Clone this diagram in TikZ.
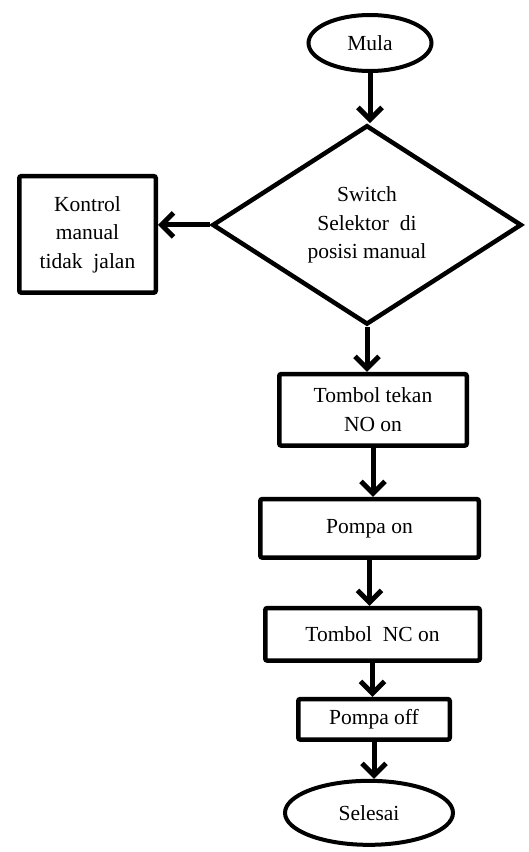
\documentclass[tikz,border=0pt]{standalone}
\usepackage{fontspec}
\setmainfont{Liberation Serif}
\usepackage{tikz}
\usetikzlibrary{shapes, arrows.meta, positioning}

\begin{document}
\begin{tikzpicture}[
			font=\fontsize{21.5}{28.5}\selectfont,
			box/.style={rectangle, draw, line width=4.5pt, rounded corners=2pt,
				align=center, inner sep=2pt},
			term/.style={ellipse, draw, line width=4pt, inner sep=1pt},
			cond/.style={diamond, draw, line width=4.5pt, align=center,
				minimum width=309.5pt, minimum height=193.5pt, inner sep=1pt},
			arrow/.style={-{Straight Barb[length=12pt, width=24pt]}, line width=5pt}
			]
			\useasboundingbox (0,0) rectangle (528pt,-852pt);
			
			\node[term, minimum width=123pt, minimum height=56pt] (mula) at (370pt,-43pt) {Mula};
			\node[cond, below=50pt of mula, xshift=-3pt] (sw)
			{Switch\\ Selektor~~di\\ posisi manual};
			\node[box, left=52pt of sw, yshift=-9.5pt,
				minimum width=136.5pt, minimum height=116.5pt] (ktr)
			{Kontrol\\ manual\\ tidak~~jalan};
			\node[box, below=45pt of sw, xshift=6pt,
				minimum width=187.5pt, minimum height=71.5pt] (tekan)
			{Tombol tekan\\ NO on};
			\node[box, below=49pt of tekan, xshift=-3.5pt,
				minimum width=218.5pt, minimum height=58.5pt] (pon)
			{Pompa on};
			\node[box, below=46pt of pon, xshift=3pt,
				minimum width=214.5pt, minimum height=52.5pt] (nc)
			{Tombol~~NC on};
			\node[box, below=34pt of nc, xshift=1.5pt,
				minimum width=151.5pt, minimum height=40.5pt] (poff)
			{Pompa off};
			\node[term, below=37pt of poff, xshift=-5pt,
				minimum width=168pt, minimum height=64pt] (sls)
			{Selesai};
			
			\draw[arrow] (mula.south) -- (mula.south |- sw.north);
			\draw[arrow] (sw.west) -- (sw.west -| ktr.east);
			\draw[arrow] (sw.south) -- (sw.south |- tekan.north);
			\draw[arrow] (tekan.south) -- (tekan.south |- pon.north);
			\draw[arrow] (pon.south) -- (pon.south |- nc.north);
			\draw[arrow] (nc.south) -- (nc.south |- poff.north);
			\draw[arrow] (poff.south) -- (poff.south |- sls.north);
		\end{tikzpicture}
\end{document}
